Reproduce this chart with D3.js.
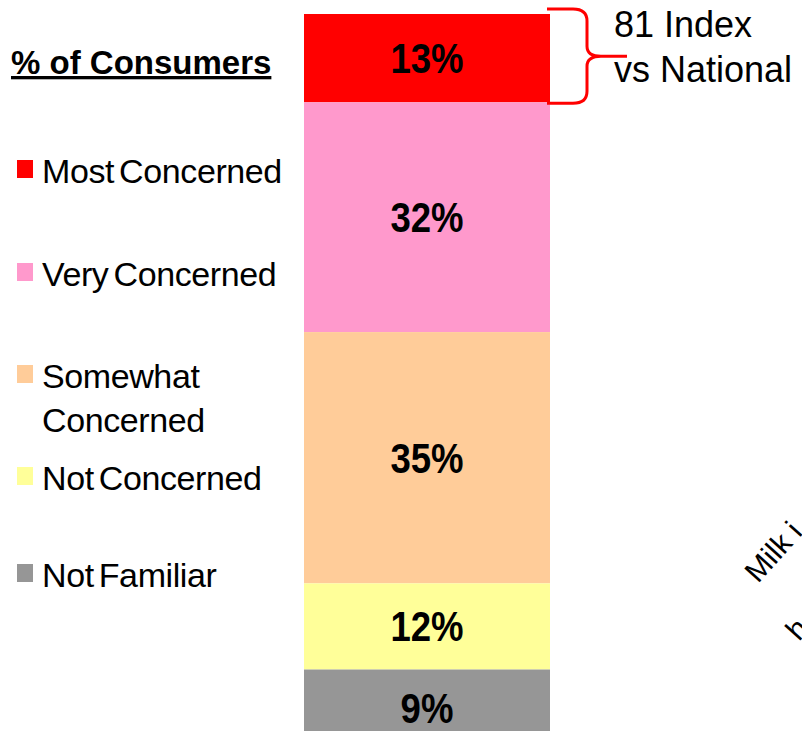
<!DOCTYPE html>
<html lang="en">
  <head>
    <meta charset="UTF-8" />
    <script src="https://cdn.jsdelivr.net/npm/d3@7"></script>
    <style>
      * {
        margin: 0;
        padding: 0;
      }
      body {
        background: #fff;
      }
      svg {
        display: block;
        font-family: 'Liberation Sans', Arial, sans-serif;
      }
    </style>
    <title>% of Consumers</title>
  </head>
  <body>
    <div id="container"></div>
  </body>
  <script>
    // segments top -> bottom
    const categories = [
      'Most Concerned',
      'Very Concerned',
      'Somewhat Concerned',
      'Not Concerned',
      'Not Familiar',
    ];
    const values = [12.3, 32, 35, 12, 9];
    const valueLabels = ['13%', '32%', '35%', '12%', '9%'];
    const colors = ['#ff0000', '#ff99cc', '#ffcc99', '#ffff99', '#969696'];
    // legend text lines
    const legendLines = [
      ['Most Concerned'],
      ['Very Concerned'],
      ['Somewhat', 'Concerned'],
      ['Not Concerned'],
      ['Not Familiar'],
    ];
    const legendBaselines = [183, 286, 388, 490, 587];
    const indexLines = ['81 Index', 'vs National'];
    const noteLines = ['Milk i', 'h'];

    const width = 802;
    const height = 731;

    const svg = d3
      .select('#container')
      .append('svg')
      .attr('width', width)
      .attr('height', height);

    const x = d3.scaleBand().domain(['Consumers']).range([304, 550]).padding(0);
    const y = d3.scaleLinear().domain([0, 100]).range([14, 732]);

    // stack
    let acc = 0;
    const stacked = values.map((v, i) => {
      const d = { y0: acc, y1: acc + v, color: colors[i], label: valueLabels[i] };
      acc += v;
      return d;
    });

    // bars
    svg
      .append('g')
      .selectAll('rect')
      .data(stacked)
      .join('rect')
      .attr('x', x('Consumers'))
      .attr('width', x.bandwidth())
      .attr('y', (d) => y(d.y0))
      .attr('height', (d) => y(d.y1) - y(d.y0))
      .attr('fill', (d) => d.color);

    // bar labels
    svg
      .append('g')
      .selectAll('text')
      .data(stacked)
      .join('text')
      .attr('transform', (d, i) => {
        const cy = (y(d.y0) + y(d.y1)) / 2 + (i === 4 ? 21 : 15);
        return `translate(${x('Consumers') + x.bandwidth() / 2},${cy}) scale(0.87,1)`;
      })
      .attr('text-anchor', 'middle')
      .attr('font-size', 42)
      .attr('font-weight', 'bold')
      .attr('fill', '#000')
      .text((d) => d.label);

    // title
    svg
      .append('text')
      .text('% of Consumers')
      .attr('x', 11)
      .attr('y', 74)
      .attr('font-size', 33)
      .attr('font-weight', 'bold')
      .attr('text-decoration', 'underline')
      .attr('fill', '#000');

    // legend
    const legend = svg
      .append('g')
      .selectAll('g')
      .data(categories)
      .join('g');

    legend
      .append('rect')
      .attr('x', 17)
      .attr('y', (d, i) => legendBaselines[i] - 23)
      .attr('width', 16)
      .attr('height', 18)
      .attr('fill', (d, i) => colors[i]);

    legend
      .append('text')
      .attr('x', 42)
      .attr('y', (d, i) => legendBaselines[i])
      .attr('font-size', 34)
      .attr('word-spacing', -4)
      .attr('letter-spacing', -0.4)
      .attr('fill', '#000')
      .selectAll('tspan')
      .data((d, i) => legendLines[i])
      .join('tspan')
      .attr('x', 42)
      .attr('dy', (d, j) => (j === 0 ? 0 : 44))
      .text((d) => d);

    // brace
    const bx = 587;
    const bTop = y(0) - 5;
    const bBot = y(values[0]) + 1;
    const bMid = (bTop + bBot) / 2;
    svg
      .append('path')
      .attr(
        'd',
        `M547,${bTop} L573,${bTop} Q${bx},${bTop} ${bx},${bTop + 12} L${bx},${bMid - 10}
         Q${bx},${bMid} ${bx + 14},${bMid} L627,${bMid}
         M${bx + 14},${bMid} Q${bx},${bMid} ${bx},${bMid + 10} L${bx},${bBot - 12}
         Q${bx},${bBot} 573,${bBot} L547,${bBot}`
      )
      .attr('fill', 'none')
      .attr('stroke', '#ff0000')
      .attr('stroke-width', 3);

    svg
      .append('g')
      .selectAll('text')
      .data(indexLines)
      .join('text')
      .attr('x', 614)
      .attr('y', (d, i) => 37 + i * 45)
      .attr('font-size', 36)
      .attr('fill', '#000')
      .text((d) => d);

    // rotated note (clipped at right edge)
    svg
      .append('g')
      .selectAll('text')
      .data(noteLines)
      .join('text')
      .attr('transform', (d, i) => `translate(${758 + i * 41},${584 + i * 58}) rotate(-48)`)
      .attr('font-size', 30)
      .attr('fill', '#000')
      .text((d) => d);
  </script>
</html>
